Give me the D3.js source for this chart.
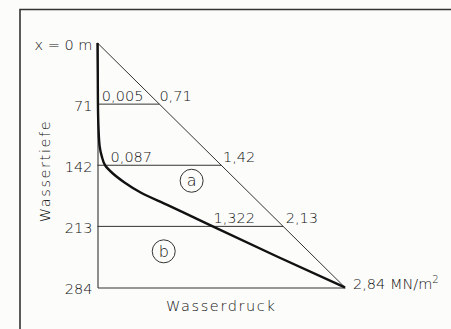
<!DOCTYPE html>
<html lang="de">
<head>
<meta charset="utf-8">
<title>Wasserdruck</title>
<script src="https://cdn.jsdelivr.net/npm/d3@7"></script>
<style>
  body { margin: 0; background: #fcfcfa; }
  text { font-family: "DejaVu Sans", sans-serif; font-weight: 200; fill: #111; }
</style>
</head>
<body>
<script>
// Tiefenstufen (m) und Druck (MN/m2)
var depthTicks = [0, 71, 142, 213, 284];
var depthTickLabels = ["x = 0 m", "71", "142", "213", "284"];
var levelDepth = [71, 142, 213];
var levelPress = [0.71, 1.42, 2.13];
var maxPress = 2.84;

// dicke Kurve (Tiefe, Druck)
var curveDepth = [0, 35, 71, 100, 120, 132, 142, 151, 162, 174, 188, 197, 213, 248, 284];
var curvePress = [0, 0.003, 0.005, 0.012, 0.025, 0.05, 0.087, 0.17, 0.31, 0.5, 0.8, 0.99, 1.322, 2.06, 2.84];

// Beschriftungen an den Linien
var valueLabels = [
  {t: "0,005", p: 0.05, d: 71},
  {t: "0,71", p: 0.71, d: 71},
  {t: "0,087", p: 0.15, d: 142},
  {t: "1,42", p: 1.44, d: 142},
  {t: "1,322", p: 1.33, d: 213},
  {t: "2,13", p: 2.16, d: 213}
];
var zoneLabels = [{t: "a", p: 1.08, d: 160}, {t: "b", p: 0.76, d: 242}];

var w = 451, h = 329;
var svg = d3.select("body").append("svg").attr("width", w).attr("height", h);

var x = d3.scaleLinear().domain([0, maxPress]).range([97.5, 345]);
var y = d3.scaleLinear().domain([0, 284]).range([43, 287.5]);

// Rahmen
svg.append("path").attr("d", "M20," + h + "V9.5H" + w)
  .attr("fill", "none").attr("stroke", "#333").attr("stroke-width", 1.6);

// Dreieck
svg.append("line")
  .attr("x1", x(0)).attr("y1", y(0)).attr("x2", x(maxPress)).attr("y2", y(284))
  .attr("stroke", "#333").attr("stroke-width", 1);
svg.selectAll(".level").data(levelDepth).enter().append("line")
  .attr("x1", x(0)).attr("x2", function(d, i) { return x(levelPress[i]); })
  .attr("y1", function(d) { return y(d); }).attr("y2", function(d) { return y(d); })
  .attr("stroke", "#333").attr("stroke-width", 1);

// Achsen
var yaxis = d3.axisLeft(y).tickValues(depthTicks).tickSize(0).tickSizeOuter(0).tickPadding(5)
  .tickFormat(function(d, i) { return depthTickLabels[i]; });
var gy = svg.append("g").attr("transform", "translate(" + x(0) + ",0)").call(yaxis);
var xaxis = d3.axisBottom(x).tickValues([]).tickSizeOuter(0);
var gx = svg.append("g").attr("transform", "translate(0," + y(284) + ")").call(xaxis);
[gx, gy].forEach(function(g) {
  g.attr("font-family", null).attr("font-size", null);
  g.select(".domain").attr("stroke", "#333").attr("stroke-width", 1.1);
  g.selectAll("text").attr("font-size", 14.5).attr("fill", "#111").attr("dy", "0.42em");
});

// Kurve
var line = d3.line()
  .x(function(d) { return x(curvePress[d]); })
  .y(function(d) { return y(curveDepth[d]); })
  .curve(d3.curveMonotoneY);
svg.append("path").datum(d3.range(curveDepth.length)).attr("d", line)
  .attr("fill", "none").attr("stroke", "#111").attr("stroke-width", 2.4);

svg.selectAll(".val").data(valueLabels).enter().append("text")
  .attr("x", function(d) { return x(d.p); }).attr("y", function(d) { return y(d.d) - 3; })
  .attr("font-size", 14.5).text(function(d) { return d.t; });

var zl = svg.selectAll(".zone").data(zoneLabels).enter().append("g")
  .attr("transform", function(d) { return "translate(" + x(d.p) + "," + y(d.d) + ")"; });
zl.append("circle").attr("r", 11.5).attr("fill", "none").attr("stroke", "#333").attr("stroke-width", 1);
zl.append("text").attr("text-anchor", "middle").attr("dy", "0.35em").attr("font-size", 16)
  .text(function(d) { return d.t; });

var mx = svg.append("text").attr("x", x(maxPress) + 8).attr("y", y(284) + 1).attr("font-size", 14.5);
mx.append("tspan").text("2,84 MN/m");
mx.append("tspan").attr("dy", -6).attr("font-size", 10).text("2");

svg.append("text").attr("x", (x(0) + x(maxPress)) / 2).attr("y", 311)
  .attr("text-anchor", "middle").attr("font-size", 14.5).attr("letter-spacing", 1.6)
  .text("Wasserdruck");
svg.append("text").attr("transform", "translate(50,171) rotate(-90)")
  .attr("text-anchor", "middle").attr("font-size", 14.5).attr("letter-spacing", 1.6)
  .text("Wassertiefe");
</script>
</body>
</html>
